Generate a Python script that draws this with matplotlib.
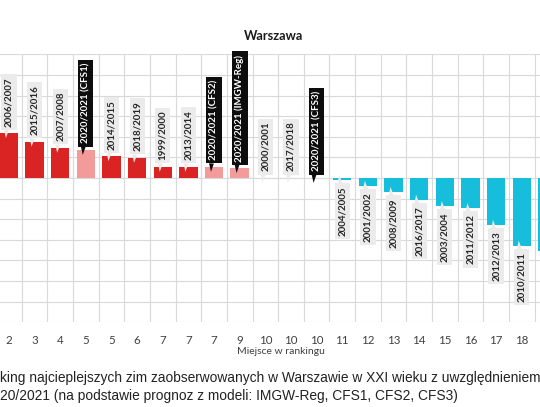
import matplotlib
matplotlib.use("Agg")
import matplotlib.pyplot as plt
import numpy as np

# winters visible in the crop (rank 1 column lies off the left edge)
seasons = ["2006/2007", "2015/2016", "2007/2008", "2020/2021 (CFS1)", "2014/2015",
           "2018/2019", "1999/2000", "2013/2014", "2020/2021 (CFS2)", "2020/2021 (IMGW-Reg)",
           "2000/2001", "2017/2018", "2020/2021 (CFS3)", "2004/2005", "2001/2002",
           "2008/2009", "2016/2017", "2003/2004", "2011/2012", "2012/2013",
           "2010/2011", ""]
ranks = ["2", "3", "4", "5", "5", "6", "7", "7", "7", "9", "10", "10", "10",
         "11", "12", "13", "14", "15", "16", "17", "18", "19"]
anomaly = [1.09, 0.88, 0.73, 0.68, 0.53, 0.49, 0.27, 0.27, 0.27, 0.24,
           0.0, 0.0, 0.0, -0.04, -0.19, -0.34, -0.53, -0.68, -0.73, -1.14,
           -1.64, -1.78]

RED = "#DA2424"
PINK = "#F29B9A"
CYAN = "#17BEDB"

YMIN, YMAX = -3.5, 3.0

W, H = 540, 407
fig = plt.figure(figsize=(W / 100, H / 100), dpi=100)

# axes reaches past the figure edges, as in the cropped original
left_px, right_px = -3.9, 560.2
top_px, bot_px = 54.3, 322.2
ax = fig.add_axes([left_px / W, (H - bot_px) / H,
                   (right_px - left_px) / W, (bot_px - top_px) / H])

x = np.arange(len(seasons))
colors = []
for s, v in zip(seasons, anomaly):
    if "2020/2021" in s:
        colors.append(PINK)
    elif v >= 0:
        colors.append(RED)
    else:
        colors.append(CYAN)
ax.bar(x, anomaly, width=0.72, color=colors, zorder=2)

ax.set_xlim(-0.5, len(seasons) - 0.5)
ax.set_ylim(YMIN, YMAX)
ax.set_yticks(np.arange(YMIN, YMAX + 0.01, 0.5))
ax.set_yticklabels([])
ax.set_xticks(x)
ax.set_xticklabels(ranks, fontsize=8.3, color="#404040", family="Lato")
ax.set_xticks(np.arange(-0.5, len(seasons), 1), minor=True)
ax.tick_params(axis="both", which="both", length=0)
ax.tick_params(axis="x", pad=9)
ax.grid(False)
ax.grid(True, which="minor", axis="x", color="#D9D9D9", lw=0.8, zorder=0)
ax.grid(True, which="major", axis="y", color="#D9D9D9", lw=0.8, zorder=0)
for sp in ax.spines.values():
    sp.set_visible(False)

# px per data unit, for label offsets
unit = (bot_px - top_px) / (YMAX - YMIN)

# callout labels
for i, (s, v) in enumerate(zip(seasons, anomaly)):
    if not s:
        continue
    forecast = "2020/2021" in s
    fc = "#0D0D0D" if forecast else "#EBEBEB"
    tc = "white" if forecast else "#262626"
    gap = 6.5 / unit
    dip = 5 / unit
    if v >= 0:
        xy = (i - 0.12, v - dip)
        xyt = (i, v + gap)
        va = "bottom"
    else:
        xy = (i - 0.12, v + dip)
        xyt = (i, v - gap)
        va = "top"
    ax.annotate(s, xy=xy, xytext=xyt, rotation=90, ha="center", va=va,
                fontsize=7, fontweight="bold", family="Lato", color=tc,
                bbox=dict(boxstyle="square,pad=0.32", fc=fc, ec="none"),
                arrowprops=dict(arrowstyle="wedge,tail_width=0.5,shrink_factor=0.5",
                                fc=fc, ec="none", shrinkA=0, shrinkB=0),
                zorder=5)

fig.text(274 / W, 1 - 36 / H, "Warszawa", ha="center", va="center",
         fontsize=9.2, fontweight="bold", family="Lato", color="#1A1A1A")
fig.text(281 / W, 1 - 352 / H, "Miejsce w rankingu", ha="center", va="center",
         fontsize=7.5, family="Lato", color="#404040")

fig.text(0.0, 1 - 378 / H,
         "king najcieplejszych zim zaobserwowanych w Warszawie w XXI wieku z uwzględnieniem",
         ha="left", va="center", fontsize=9.9, family="Liberation Sans", color="#222222")
fig.text(0.0, 1 - 396 / H,
         "20/2021 (na podstawie prognoz z modeli: IMGW-Reg, CFS1, CFS2, CFS3)",
         ha="left", va="center", fontsize=9.9, family="Liberation Sans", color="#222222")

fig.savefig("out.png", dpi=100)
